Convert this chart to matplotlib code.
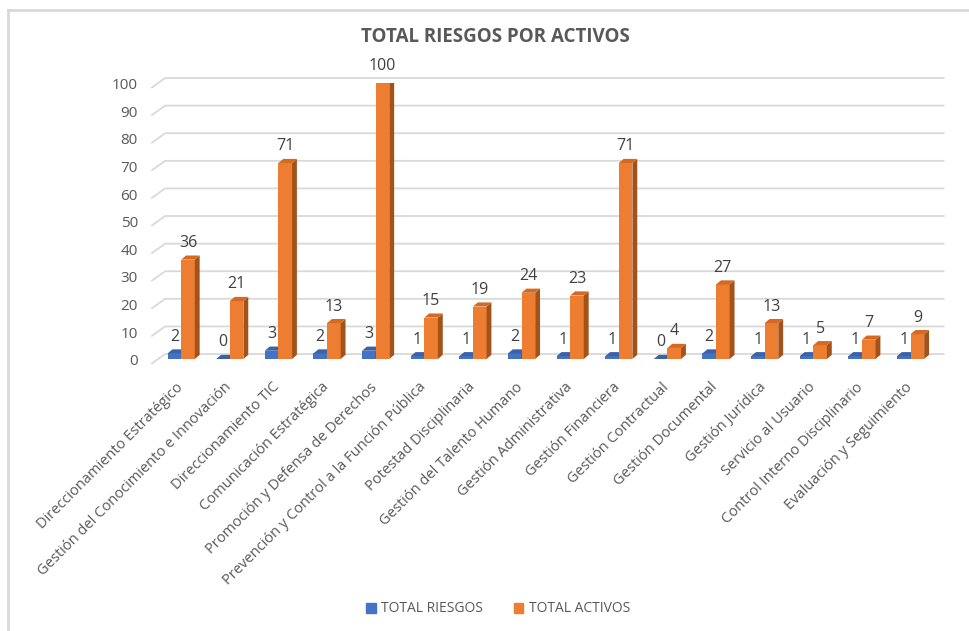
import matplotlib
matplotlib.use("Agg")
import matplotlib.pyplot as plt
from matplotlib.patches import Polygon
from matplotlib.lines import Line2D

plt.rcParams['font.family'] = ['Open Sans', 'DejaVu Sans']

procesos = [
    "Direccionamiento Estratégico",
    "Gestión del Conocimiento e Innovación",
    "Direccionamiento TIC",
    "Comunicación Estratégica",
    "Promoción y Defensa de Derechos",
    "Prevención y Control a la Función Pública",
    "Potestad Disciplinaria",
    "Gestión del Talento Humano",
    "Gestión Administrativa",
    "Gestión Financiera",
    "Gestión Contractual",
    "Gestión Documental",
    "Gestión Jurídica",
    "Servicio al Usuario",
    "Control Interno Disciplinario",
    "Evaluación y Seguimiento",
]
total_riesgos = [2, 0, 3, 2, 3, 1, 1, 2, 1, 1, 0, 2, 1, 1, 1, 1]
total_activos = [36, 21, 71, 13, 100, 15, 19, 24, 23, 71, 4, 27, 13, 5, 7, 9]
y_ticks = list(range(0, 101, 10))

W, H = 969, 631
fig = plt.figure(figsize=(W / 100, H / 100), dpi=100)

# marco gris (solo se ve arriba y a la izquierda)
fig.add_artist(Line2D([8 / W, 8 / W], [0, 1 - 10 / H], transform=fig.transFigure,
                      color="#d9d9d9", lw=2))
fig.add_artist(Line2D([8 / W, 1], [1 - 10 / H, 1 - 10 / H], transform=fig.transFigure,
                      color="#d9d9d9", lw=2))

ax_left, ax_right = 152, 930
y0_px, y100_px = 359, 83
ax = fig.add_axes([ax_left / W, 1 - y0_px / H, (ax_right - ax_left) / W, (y0_px - y100_px) / H])
ax.set_xlim(-0.6, 15.4)
ax.set_ylim(0, 100)
ax.axis("off")

n = len(procesos)
x = list(range(n))
bw = 0.28
dx, dy = 0.1, 1.5           # profundidad de las barras
gx, g_front, g_back = 0.27, -1.6, 1.8   # profundidad de la pared
x_front, x_back_end = -0.6, 15.68

# cuadricula en perspectiva
for v in y_ticks:
    ax.plot([x_front, x_front + gx, x_back_end], [v + g_front, v + g_back, v + g_back],
            color="#d9d9d9", lw=1.3, clip_on=False, zorder=1)
    ax.text(x_front - 0.29, v - 1, str(v), ha="right", va="center",
            fontsize=11, color="#595959")

series = [
    (total_riesgos, -bw / 2, "#4472C4", "#3A62A8", "#2C4D8A", "TOTAL RIESGOS"),
    (total_activos, bw / 2, "#ED7D31", "#D46A22", "#A3531A", "TOTAL ACTIVOS"),
]
for vals, off, front, top, side, name in series:
    xs = [xi + off for xi in x]
    ax.bar(xs, vals, width=bw, color=front, zorder=3, label=name)
    for xc, v in zip(xs, vals):
        l, r = xc - bw / 2, xc + bw / 2
        ax.add_patch(Polygon([(r, 0), (r + dx, dy), (r + dx, v + dy), (r, v)],
                             closed=True, facecolor=side, edgecolor="none", zorder=3))
        ax.add_patch(Polygon([(l, v), (l + dx, v + dy), (r + dx, v + dy), (r, v)],
                             closed=True, facecolor=top, edgecolor="none", zorder=3))
        ax.text(xc, v + 6, str(v), ha="center", va="center",
                fontsize=11.5, color="#404040", zorder=4)

for xi, lab in zip(x, procesos):
    ax.text(xi - 0.12, -7.5, lab, rotation=45, ha="right", va="top",
            rotation_mode="anchor", fontsize=10.5, color="#595959")

fig.text(495 / W, 1 - 37 / H, "TOTAL RIESGOS POR ACTIVOS", ha="center", va="center",
         fontsize=13.5, fontweight="bold", color="#595959")

handles = [plt.Rectangle((0, 0), 1, 1, color="#4472C4"),
           plt.Rectangle((0, 0), 1, 1, color="#ED7D31")]
fig.legend(handles, ["TOTAL RIESGOS", "TOTAL ACTIVOS"], loc="center",
           bbox_to_anchor=(498 / W, 1 - 609 / H), ncol=2, frameon=False,
           fontsize=10, labelcolor="#595959", handlelength=0.7, handleheight=0.7,
           handletextpad=0.4, columnspacing=2.2)

fig.savefig("out.png", dpi=100)
